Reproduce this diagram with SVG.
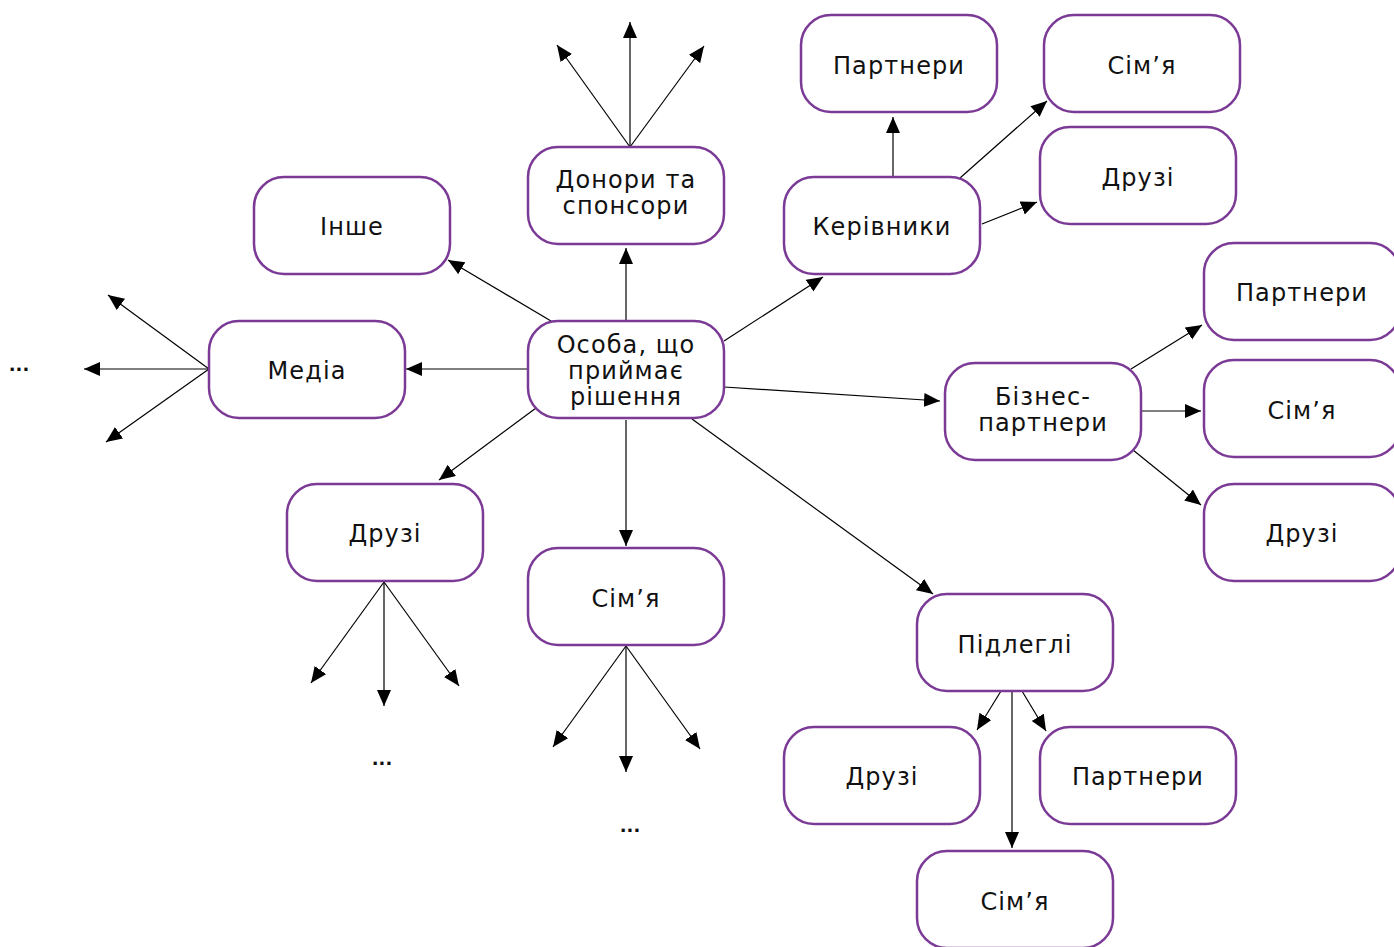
<svg xmlns="http://www.w3.org/2000/svg" width="1394" height="947" viewBox="0 0 1394 947">
<style>
.n rect{fill:#fff;stroke:#7B3A96;stroke-width:2.5}
.n text,.d{font-family:"DejaVu Sans","Noto Sans",sans-serif;font-size:24px;fill:#111;text-anchor:middle;letter-spacing:1.1px}
.c line{stroke:#000;stroke-width:1.2;marker-end:url(#a)}
</style>
<defs>
<marker id="a" markerUnits="userSpaceOnUse" markerWidth="17" markerHeight="15" refX="16" refY="7" orient="auto"><path d="M0,0 L16,7 L0,14 z" fill="#000"/></marker>
</defs>
<g class="c" id="connectors">
<line x1="626" y1="321" x2="626" y2="248"/>
<line x1="630" y1="147" x2="630" y2="22"/>
<line x1="630" y1="147" x2="557" y2="45"/>
<line x1="630" y1="147" x2="704" y2="46"/>
<line x1="551" y1="321" x2="448" y2="260"/>
<line x1="528" y1="369" x2="406" y2="369"/>
<line x1="209" y1="369" x2="84" y2="369"/>
<line x1="209" y1="369" x2="108" y2="295"/>
<line x1="209" y1="369" x2="106" y2="442"/>
<line x1="536" y1="408" x2="439" y2="480"/>
<line x1="626" y1="420" x2="626" y2="546"/>
<line x1="626" y1="646" x2="626" y2="772"/>
<line x1="626" y1="646" x2="553" y2="747"/>
<line x1="626" y1="646" x2="700" y2="749"/>
<line x1="384" y1="582" x2="384" y2="706"/>
<line x1="384" y1="582" x2="311" y2="683"/>
<line x1="384" y1="582" x2="459" y2="686"/>
<line x1="724" y1="341" x2="823" y2="277"/>
<line x1="893" y1="177" x2="893" y2="117"/>
<line x1="960" y1="178" x2="1047" y2="101"/>
<line x1="982" y1="224" x2="1037" y2="202"/>
<line x1="724" y1="387" x2="940" y2="401"/>
<line x1="1131" y1="369" x2="1202" y2="325"/>
<line x1="1142" y1="411" x2="1201" y2="411"/>
<line x1="1133" y1="450" x2="1201" y2="505"/>
<line x1="692" y1="419" x2="933" y2="594"/>
<line x1="1001" y1="691" x2="977" y2="730"/>
<line x1="1012" y1="691" x2="1012" y2="848"/>
<line x1="1022" y1="691" x2="1046" y2="731"/>
</g>
<g class="n" id="center"><rect x="528" y="321" width="196" height="97" rx="30"/><text x="626" y="353">Особа, що</text><text x="626" y="379">приймає</text><text x="626" y="405">рішення</text></g>
<g class="n" id="donors"><rect x="528" y="147" width="196" height="97" rx="30"/><text x="626" y="188">Донори та</text><text x="626" y="214">спонсори</text></g>
<g class="n" id="other"><rect x="254" y="177" width="196" height="97" rx="30"/><text x="352" y="235">Інше</text></g>
<g class="n" id="media"><rect x="209" y="321" width="196" height="97" rx="30"/><text x="307" y="379">Медіа</text></g>
<g class="n" id="friends-left"><rect x="287" y="484" width="196" height="97" rx="30"/><text x="385" y="542">Друзі</text></g>
<g class="n" id="family-center"><rect x="528" y="548" width="196" height="97" rx="30"/><text x="626" y="607">Сім’я</text></g>
<g class="n" id="managers"><rect x="784" y="177" width="196" height="97" rx="30"/><text x="882" y="235">Керівники</text></g>
<g class="n" id="partners-top"><rect x="801" y="15" width="196" height="97" rx="30"/><text x="899" y="74">Партнери</text></g>
<g class="n" id="family-top"><rect x="1044" y="15" width="196" height="97" rx="30"/><text x="1142" y="74">Сім’я</text></g>
<g class="n" id="friends-top"><rect x="1040" y="127" width="196" height="97" rx="30"/><text x="1138" y="186">Друзі</text></g>
<g class="n" id="business"><rect x="945" y="363" width="196" height="97" rx="30"/><text x="1043" y="405">Бізнес-</text><text x="1043" y="431">партнери</text></g>
<g class="n" id="partners-right"><rect x="1204" y="243" width="196" height="97" rx="30"/><text x="1302" y="301">Партнери</text></g>
<g class="n" id="family-right"><rect x="1204" y="360" width="196" height="97" rx="30"/><text x="1302" y="419">Сім’я</text></g>
<g class="n" id="friends-right"><rect x="1204" y="484" width="196" height="97" rx="30"/><text x="1302" y="542">Друзі</text></g>
<g class="n" id="subordinates"><rect x="917" y="594" width="196" height="97" rx="30"/><text x="1015" y="653">Підлеглі</text></g>
<g class="n" id="friends-bottom"><rect x="784" y="727" width="196" height="97" rx="30"/><text x="882" y="785">Друзі</text></g>
<g class="n" id="partners-bottom"><rect x="1040" y="727" width="196" height="97" rx="30"/><text x="1138" y="785">Партнери</text></g>
<g class="n" id="family-bottom"><rect x="917" y="851" width="196" height="97" rx="30"/><text x="1015" y="910">Сім’я</text></g>
<text class="d" x="19" y="371" style="font-size:18px;font-weight:bold;letter-spacing:0">...</text>
<text class="d" x="382" y="765" style="font-size:18px;font-weight:bold;letter-spacing:0">...</text>
<text class="d" x="630" y="832" style="font-size:18px;font-weight:bold;letter-spacing:0">...</text>
</svg>
